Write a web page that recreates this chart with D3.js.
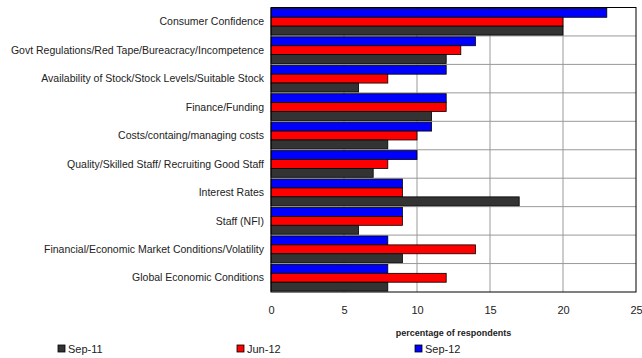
<!DOCTYPE html>
<html><head><meta charset="utf-8">
<script src="https://cdn.jsdelivr.net/npm/d3@7"></script>
<style>body{margin:0;background:#fff;} svg{display:block;font-family:"Liberation Sans",Arial,sans-serif;}</style>
</head><body>
<svg id="c" width="642" height="358"></svg>
<script>
const categories = ["Consumer Confidence","Govt Regulations/Red Tape/Bureacracy/Incompetence","Availability of Stock/Stock Levels/Suitable Stock","Finance/Funding","Costs/containg/managing costs","Quality/Skilled Staff/ Recruiting Good Staff","Interest Rates","Staff (NFI)","Financial/Economic Market Conditions/Volatility","Global Economic Conditions"];
const sep11 = [20,12,6,11,8,7,17,6,9,8];
const jun12 = [20,13,8,12,10,8,9,9,14,12];
const sep12 = [23,14,12,12,11,10,9,9,8,8];
const seriesNames = ["Sep-12","Jun-12","Sep-11"];
const seriesColors = ["#0000ff","#ff0000","#333333"];
const xTicks = [0,5,10,15,20,25];
const legendOrder = ["Sep-11","Jun-12","Sep-12"];

const svg = d3.select("#c");
const m = {l:271, r:636, t:7.5, b:292};
const x = d3.scaleLinear().domain([0,25]).range([m.l,m.r]);
const y = d3.scaleBand().domain(categories).range([m.t,m.b]).paddingInner(0).paddingOuter(0);
const inner = d3.scaleBand().domain(seriesNames).range([0,y.bandwidth()]).paddingOuter(0.1).paddingInner(0);
const series = [sep12, jun12, sep11];

// plot background
svg.append("rect").attr("x",m.l).attr("y",m.t).attr("width",m.r-m.l).attr("height",m.b-m.t).attr("fill","#fff");
// vertical grid
svg.append("g").selectAll("line").data(xTicks.slice(1,-1)).join("line")
  .attr("x1",d=>x(d)).attr("x2",d=>x(d)).attr("y1",m.t).attr("y2",m.b)
  .attr("stroke","#999").attr("stroke-width",1);
// horizontal separators
svg.append("g").selectAll("line").data(categories.slice(1)).join("line")
  .attr("x1",m.l).attr("x2",m.r).attr("y1",d=>y(d)).attr("y2",d=>y(d))
  .attr("stroke","#999").attr("stroke-width",1);

// bars
series.forEach((vals,si)=>{
  svg.append("g").selectAll("rect").data(vals).join("rect")
    .attr("x",x(0))
    .attr("y",(d,i)=>y(categories[i])+inner(seriesNames[si]))
    .attr("width",d=>x(d)-x(0))
    .attr("height",inner.bandwidth())
    .attr("fill",seriesColors[si])
    .attr("stroke","#000").attr("stroke-width",0.8);
});

// plot border
svg.append("rect").attr("x",m.l).attr("y",m.t).attr("width",m.r-m.l).attr("height",m.b-m.t)
  .attr("fill","none").attr("stroke","#000").attr("stroke-width",1);

// category labels
svg.append("g").selectAll("text").data(categories).join("text")
  .attr("x",264).attr("y",d=>y(d)+y.bandwidth()/2).attr("dy","0.35em")
  .attr("text-anchor","end").attr("font-size",10.5).attr("fill","#222")
  .text(d=>d);

// x axis tick labels
const xAxis = d3.axisBottom(x).tickValues(xTicks).tickSize(0).tickPadding(14).tickFormat(d3.format("d"));
const gx = svg.append("g").attr("transform",`translate(0,${m.b})`).call(xAxis);
gx.select(".domain").remove();
gx.selectAll("text").attr("font-size",11).attr("fill","#222").attr("font-family","Liberation Sans, Arial, sans-serif");

// axis title
svg.append("text").attr("x",(m.l+m.r)/2).attr("y",336).attr("text-anchor","middle")
  .attr("font-size",9).attr("font-weight","bold").attr("fill","#222").text("percentage of respondents");

// legend
const legX = [58,237,415];
const legColor = {"Sep-11":"#333333","Jun-12":"#ff0000","Sep-12":"#0000ff"};
legendOrder.forEach((n,i)=>{
  svg.append("rect").attr("x",legX[i]).attr("y",345).attr("width",7).attr("height",7)
    .attr("fill",legColor[n]).attr("stroke","#000").attr("stroke-width",0.8);
  svg.append("text").attr("x",legX[i]+10).attr("y",352.5).attr("font-size",11).attr("fill","#222").text(n);
});
</script>
</body></html>
